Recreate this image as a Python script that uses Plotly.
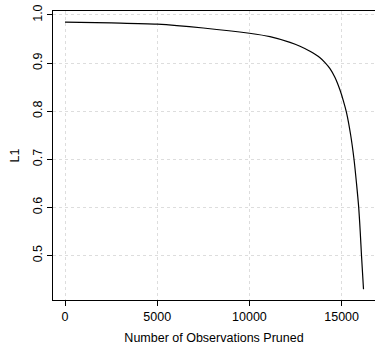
import plotly.graph_objects as go

# Data
pruned = [0, 2500, 5000, 7500, 10000, 11117, 12202, 12744, 13286,
          13829, 14100, 14370, 14642, 14913, 15100, 15266, 15493, 15672, 15808, 15927,
          16009, 16079, 16188]
l1 = [0.985, 0.9835, 0.981, 0.973, 0.962, 0.955, 0.943, 0.935, 0.9245,
      0.911, 0.901, 0.8885, 0.870, 0.844, 0.821, 0.797, 0.750, 0.700, 0.650, 0.600,
      0.550, 0.500, 0.430]

x_ticks = [0, 5000, 10000, 15000]
y_ticks = [0.5, 0.6, 0.7, 0.8, 0.9, 1.0]

fig = go.Figure()
fig.add_trace(go.Scatter(x=pruned, y=l1, mode="lines",
                         line=dict(color="black", width=1.2, shape="spline", smoothing=0.8),
                         hoverinfo="skip", showlegend=False))

font = dict(family="Liberation Sans, Arial, Helvetica, sans-serif", size=12.5, color="black")

fig.update_layout(
    width=375, height=345,
    margin=dict(l=53, r=0, t=11, b=45, autoexpand=False),
    paper_bgcolor="white", plot_bgcolor="white",
    font=font,
    xaxis=dict(
        range=[-651, 16811], tickvals=x_ticks, ticktext=[str(v) for v in x_ticks],
        automargin=False,
        showline=True, linecolor="black", linewidth=1, mirror=True,
        ticks="outside", ticklen=5, tickcolor="black", tickwidth=1,
        showgrid=True, gridcolor="#dddddd", griddash="dot", gridwidth=1,
        zeroline=False,
        title=dict(text="Number of Observations Pruned", standoff=10, font=font),
    ),
    yaxis=dict(
        range=[0.4075, 1.0083], tickvals=y_ticks, ticktext=[f"{v:.1f}" for v in y_ticks],
        tickangle=-90, automargin=False,
        showline=True, linecolor="black", linewidth=1, mirror=False,
        ticks="outside", ticklen=5, tickcolor="black", tickwidth=1,
        showgrid=True, gridcolor="#dddddd", griddash="dot", gridwidth=1,
        zeroline=False,
        title=dict(text="L1", standoff=8, font=font),
    ),
)

fig.write_html("out.html", config={"displayModeBar": False},
               post_script="document.body.style.margin='0px';document.body.style.padding='0px';")
